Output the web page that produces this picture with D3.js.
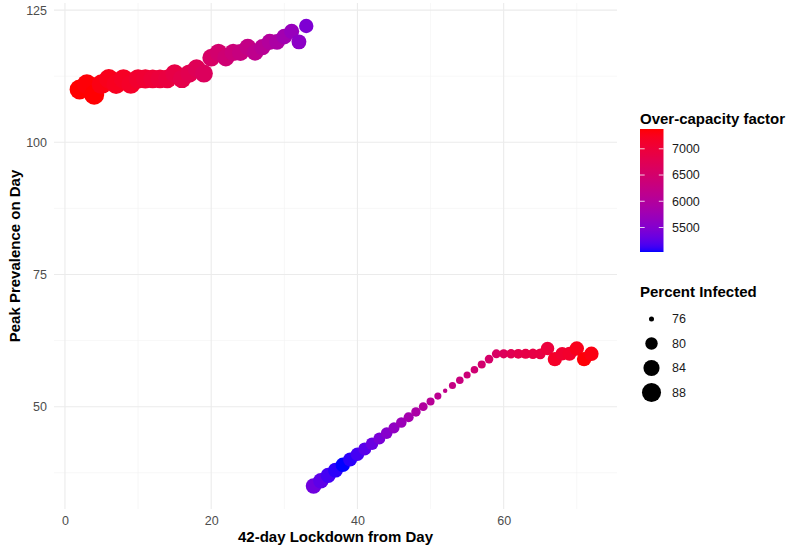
<!DOCTYPE html>
<html>
<head>
<meta charset="utf-8">
<script src="https://cdn.jsdelivr.net/npm/d3@7"></script>
<style>
  html, body { margin: 0; padding: 0; background: #ffffff; }
  svg { display: block; font-family: "Liberation Sans", Arial, Helvetica, sans-serif; }
</style>
</head>
<body>
<svg id="chart" width="794" height="546"></svg>
<script>
// ---- data ----
const lockdownDay = [2,3,4,5,6,7,8,9,10,11,12,13,14,15,16,17,18,19,20,21,22,23,24,25,26,27,28,29,30,31,32,33,
  34,35,36,37,38,39,40,41,42,43,44,45,46,47,48,49,50,51,52,53,54,55,56,57,58,59,60,61,62,63,64,65,66,67,68,69,70,71,72];
const peakDay = [110,111,109,111,112,111,112,111,112,112,112,112,112,113,112,113,114,113,116,117,116,117,117,118,117,118,119,119,120,121,119,122,
  35,36,37,38,39,40,41,42,43,44,45,46,47,48,49,50,51,52,53,54,55,56,57,58,59,60,60,60,60,60,60,60,61,59,60,60,61,59,60];
const overCapacity = [7377,7350,7370,7300,7250,7220,7180,7150,7100,7060,7020,6980,6940,6880,6830,6780,6720,6660,6560,6480,6420,6360,6300,6230,6160,6080,6000,5920,5800,5680,5580,5460,
  5350,5250,5150,5080,5033,5080,5150,5230,5320,5420,5520,5620,5720,5820,5900,5980,6060,6130,6200,6260,6320,6380,6430,6480,6530,6580,6680,6760,6820,6860,6880,6900,6980,7150,7080,7120,7250,7350,7300];
const percentInfected = [89.5,89.3,89.5,89.2,89.0,88.9,88.7,88.5,88.3,88.1,87.9,87.7,87.5,87.3,87.1,86.9,86.6,86.4,86.1,85.8,85.6,85.3,85.0,84.8,84.5,84.2,84.0,83.7,83.4,82.8,82.5,82.0,
  83.4,83.2,82.9,82.5,82.1,81.6,81.1,80.6,80.1,79.6,79.3,78.9,78.5,78.2,77.8,77.4,77.0,76.6,75.9,76.6,76.8,76.6,76.8,77.0,77.3,77.5,77.6,77.8,78.0,78.2,78.4,78.7,81.0,81.9,81.0,81.5,82.0,82.0,82.0];

const xTicks = [0, 20, 40, 60];
const xMinor = [10, 30, 50, 70];
const yTicks = [50, 75, 100, 125];
const yMinor = [37.5, 62.5, 87.5, 112.5];
const colorBreaks = [5500, 6000, 6500, 7000];
const sizeBreaks = [76, 80, 84, 88];

const xTitle = "42-day Lockdown from Day";
const yTitle = "Peak Prevalence on Day";
const colorTitle = "Over-capacity factor";
const sizeTitle = "Percent Infected";

// ---- scales ----
const svg = d3.select("#chart");
const panel = { left: 54, right: 617, top: 3, bottom: 509 };
const x = d3.scaleLinear().domain([-1.5, 75.5]).range([panel.left, panel.right]);
const y = d3.scaleLinear().domain([30.65, 126.35]).range([panel.bottom, panel.top]);
const colorDomain = [5033, 7377];
const color = d3.scaleLinear().domain(colorDomain).range(["blue", "red"]).interpolate(d3.interpolateLab);
const sizeT = d3.scaleLinear().domain([75.8, 89.5]).range([0, 1]).clamp(true);
const sizeR = d3.scaleSqrt().domain([0, 1]).range([1.5, 10]);
const radius = v => sizeR(sizeT(v));

// ---- grid ----
const grid = svg.append("g");
grid.selectAll(".vmin").data(xMinor).join("line")
  .attr("x1", d => x(d)).attr("x2", d => x(d)).attr("y1", panel.top).attr("y2", panel.bottom)
  .attr("stroke", "#f2f2f2").attr("stroke-width", 0.6);
grid.selectAll(".hmin").data(yMinor).join("line")
  .attr("x1", panel.left).attr("x2", panel.right).attr("y1", d => y(d)).attr("y2", d => y(d))
  .attr("stroke", "#f2f2f2").attr("stroke-width", 0.6);
grid.selectAll(".vmaj").data(xTicks).join("line")
  .attr("x1", d => x(d)).attr("x2", d => x(d)).attr("y1", panel.top).attr("y2", panel.bottom)
  .attr("stroke", "#ebebeb").attr("stroke-width", 1.1);
grid.selectAll(".hmaj").data(yTicks).join("line")
  .attr("x1", panel.left).attr("x2", panel.right).attr("y1", d => y(d)).attr("y2", d => y(d))
  .attr("stroke", "#ebebeb").attr("stroke-width", 1.1);

// ---- axes (labels only) ----
const xAxis = svg.append("g").attr("transform", `translate(0,${panel.bottom})`)
  .call(d3.axisBottom(x).tickValues(xTicks).tickSize(0).tickPadding(7).tickFormat(d3.format("d")));
const yAxis = svg.append("g").attr("transform", `translate(${panel.left},0)`)
  .call(d3.axisLeft(y).tickValues(yTicks).tickSize(0).tickPadding(7).tickFormat(d3.format("d")));
[xAxis, yAxis].forEach(a => {
  a.select(".domain").remove();
  a.selectAll("text").attr("fill", "#4d4d4d").style("font-size", "12.5px")
    .style("font-family", "'Liberation Sans', Arial, sans-serif");
});

// ---- titles ----
svg.append("text").attr("x", (panel.left + panel.right) / 2).attr("y", 542)
  .attr("text-anchor", "middle").attr("font-weight", "bold").attr("font-size", 15).attr("fill", "#000")
  .text(xTitle);
svg.append("text").attr("transform", `translate(20,${(panel.top + panel.bottom) / 2}) rotate(-90)`)
  .attr("text-anchor", "middle").attr("font-weight", "bold").attr("font-size", 15).attr("fill", "#000")
  .text(yTitle);

// ---- points ----
const pts = lockdownDay.map((d, i) => ({ day: d, peak: peakDay[i], cap: overCapacity[i], pct: percentInfected[i] }));
svg.append("g").selectAll("circle").data(pts).join("circle")
  .attr("cx", d => x(d.day)).attr("cy", d => y(d.peak))
  .attr("r", d => radius(d.pct))
  .attr("fill", d => color(d.cap));

// ---- colour legend ----
const lg = svg.append("g");
lg.append("text").attr("x", 640).attr("y", 124).attr("font-weight", "bold").attr("font-size", 15)
  .attr("fill", "#000").text(colorTitle);
const barX = 640, barW = 23.5;
const cbY = d3.scaleLinear().domain(colorDomain).range([252, 129]);
const defs = svg.append("defs");
const grad = defs.append("linearGradient").attr("id", "cgrad")
  .attr("x1", 0).attr("y1", 1).attr("x2", 0).attr("y2", 0);
d3.range(0, 1.0001, 0.02).forEach(t => {
  grad.append("stop").attr("offset", t)
    .attr("stop-color", color(colorDomain[0] + t * (colorDomain[1] - colorDomain[0])));
});
lg.append("rect").attr("x", barX).attr("y", cbY(colorDomain[1])).attr("width", barW)
  .attr("height", cbY(colorDomain[0]) - cbY(colorDomain[1])).attr("fill", "url(#cgrad)");
colorBreaks.forEach(b => {
  const yy = cbY(b);
  lg.append("line").attr("x1", barX).attr("x2", barX + 4.7).attr("y1", yy).attr("y2", yy)
    .attr("stroke", "#ffffff").attr("stroke-width", 1).attr("opacity", 0.8);
  lg.append("line").attr("x1", barX + barW - 4.7).attr("x2", barX + barW).attr("y1", yy).attr("y2", yy)
    .attr("stroke", "#ffffff").attr("stroke-width", 1).attr("opacity", 0.8);
  lg.append("text").attr("x", 672).attr("y", yy).attr("dy", "0.35em").attr("font-size", 12.5)
    .attr("fill", "#1a1a1a").text(b);
});

// ---- size legend ----
lg.append("text").attr("x", 640).attr("y", 297).attr("font-weight", "bold").attr("font-size", 15)
  .attr("fill", "#000").text(sizeTitle);
const sizeRowY = d3.scalePoint().domain(sizeBreaks).range([319, 392.5]);
sizeBreaks.forEach(b => {
  lg.append("circle").attr("cx", 651.5).attr("cy", sizeRowY(b)).attr("r", radius(b)).attr("fill", "#000");
  lg.append("text").attr("x", 672).attr("y", sizeRowY(b)).attr("dy", "0.35em").attr("font-size", 12.5)
    .attr("fill", "#1a1a1a").text(b);
});
</script>
</body>
</html>
